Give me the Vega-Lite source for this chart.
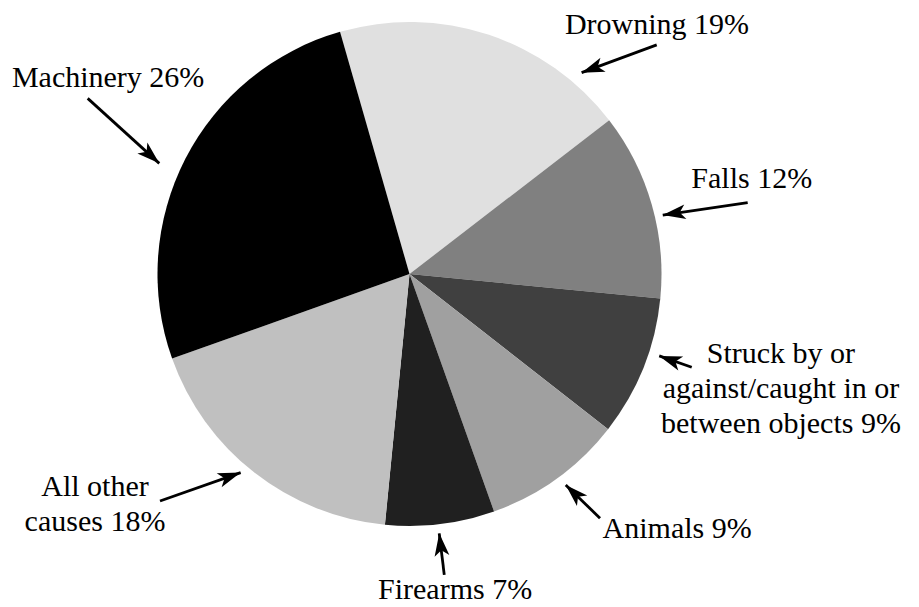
{
  "$schema": "https://vega.github.io/schema/vega-lite/v6.json",
  "autosize": "none",
  "width": 819,
  "height": 548,
  "padding": {"left": 0, "top": 0, "right": 100, "bottom": 59},
  "background": "white",
  "config": {"view": {"stroke": null}},
  "datasets": {
    "slices": [
      {"cause": "Drowning", "pct": 19, "order": 1},
      {"cause": "Falls", "pct": 12, "order": 2},
      {"cause": "Struck by or against/caught in or between objects", "pct": 9, "order": 3},
      {"cause": "Animals", "pct": 9, "order": 4},
      {"cause": "Firearms", "pct": 7, "order": 5},
      {"cause": "All other causes", "pct": 18, "order": 6},
      {"cause": "Machinery", "pct": 26, "order": 7}
    ],
    "labels": [
      {"label": "Machinery 26%", "lx": -1.196, "ly": 0.741},
      {"label": "Drowning 19%", "lx": 0.982, "ly": 0.952},
      {"label": "Falls 12%", "lx": 1.358, "ly": 0.34},
      {"label": "Struck by or\nagainst/caught in or\nbetween objects 9%", "lx": 1.474, "ly": -0.354},
      {"label": "Animals 9%", "lx": 1.062, "ly": -1.046},
      {"label": "Firearms 7%", "lx": 0.181, "ly": -1.29},
      {"label": "All other\ncauses 18%", "lx": -1.248, "ly": -0.881}
    ],
    "arrows": [
      {"x": -1.277, "y": 0.697, "x2": -0.993, "y2": 0.439},
      {"x": 0.981, "y": 0.909, "x2": 0.683, "y2": 0.799},
      {"x": 1.342, "y": 0.283, "x2": 1.005, "y2": 0.234},
      {"x": 1.12, "y": -0.37, "x2": 0.991, "y2": -0.325},
      {"x": 0.756, "y": -0.969, "x2": 0.62, "y2": -0.837},
      {"x": 0.138, "y": -1.194, "x2": 0.118, "y2": -1.029},
      {"x": -0.99, "y": -0.901, "x2": -0.67, "y2": -0.788}
    ]
  },
  "layer": [
    {
      "data": {"name": "slices"},
      "mark": {"type": "arc", "outerRadius": 252, "stroke": null},
      "encoding": {
        "theta": {"field": "pct", "type": "quantitative", "stack": true, "scale": {"range": [-0.2793, 6.0039]}},
        "order": {"field": "order", "type": "quantitative"},
        "color": {
          "field": "cause",
          "type": "nominal",
          "legend": null,
          "scale": {
            "domain": ["Drowning", "Falls", "Struck by or against/caught in or between objects", "Animals", "Firearms", "All other causes", "Machinery"],
            "range": ["#e0e0e0", "#808080", "#404040", "#a0a0a0", "#202020", "#c0c0c0", "#000000"]
          }
        }
      }
    },
    {
      "data": {"name": "arrows"},
      "mark": {"type": "rule", "color": "black", "strokeWidth": 2.8},
      "encoding": {
        "x": {"field": "x", "type": "quantitative", "axis": null, "scale": {"domain": [-1.625, 1.625], "nice": false, "zero": false}},
        "y": {"field": "y", "type": "quantitative", "axis": null, "scale": {"domain": [-1.0873, 1.0873], "nice": false, "zero": false}},
        "x2": {"field": "x2"},
        "y2": {"field": "y2"}
      }
    },
    {
      "data": {"name": "arrows"},
      "transform": [
        {"calculate": "atan2(datum.x2 - datum.x, datum.y2 - datum.y) * 180 / PI", "as": "heading"}
      ],
      "mark": {"type": "point", "shape": "M0,0L0.65,2L0,1.5L-0.65,2Z", "filled": true, "color": "black", "opacity": 1, "size": 520, "strokeWidth": 0},
      "encoding": {
        "x": {"field": "x2", "type": "quantitative", "axis": null, "scale": {"domain": [-1.625, 1.625], "nice": false, "zero": false}},
        "y": {"field": "y2", "type": "quantitative", "axis": null, "scale": {"domain": [-1.0873, 1.0873], "nice": false, "zero": false}},
        "angle": {"field": "heading", "type": "quantitative", "scale": null}
      }
    },
    {
      "data": {"name": "labels"},
      "mark": {"type": "text", "font": "'Liberation Serif', 'DejaVu Serif'", "fontSize": 30, "lineHeight": 35, "align": "center", "baseline": "alphabetic", "lineBreak": "\n", "color": "black"},
      "encoding": {
        "x": {"field": "lx", "type": "quantitative", "axis": null, "scale": {"domain": [-1.625, 1.625], "nice": false, "zero": false}},
        "y": {"field": "ly", "type": "quantitative", "axis": null, "scale": {"domain": [-1.0873, 1.0873], "nice": false, "zero": false}},
        "text": {"field": "label"}
      }
    }
  ]
}
